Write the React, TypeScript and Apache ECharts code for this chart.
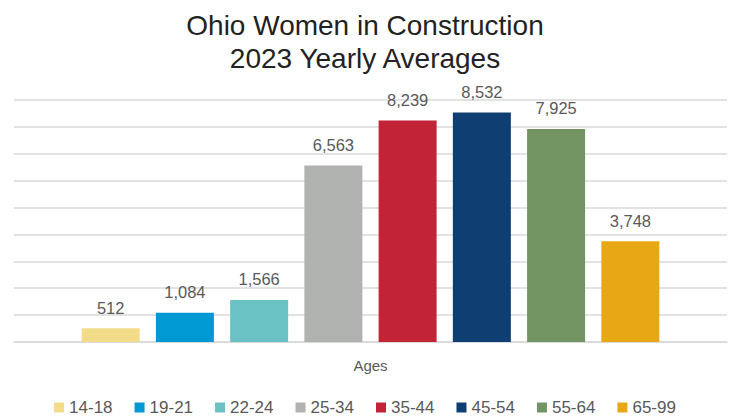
import React, { useEffect, useRef } from "react";
import * as echarts from "echarts";

const categories = ["Ages"];
const seriesNames = ["14-18", "19-21", "22-24", "25-34", "35-44", "45-54", "55-64", "65-99"];
const seriesValues = [512, 1084, 1566, 6563, 8239, 8532, 7925, 3748];
const colors = ["#F2DC8A", "#0099D3", "#6AC2C5", "#B0B2AF", "#C22336", "#0F3E72", "#719462", "#E8A714"];

export default function App() {
  const ref = useRef<HTMLDivElement>(null);
  useEffect(() => {
    if (!ref.current) return;
    const chart = echarts.init(ref.current, undefined, { renderer: "svg" });
    chart.setOption({
      animation: false,
      title: {
        text: "Ohio Women in Construction\n2023 Yearly Averages",
        left: "center",
        top: 4,
        textStyle: { fontFamily: "Liberation Sans", fontSize: 28, fontWeight: "normal", color: "#222", lineHeight: 33 },
      },
      legend: {
        bottom: 0,
        left: "center",
        padding: [5, 5, 2, 5],
        itemWidth: 10,
        itemHeight: 10,
        itemGap: 22,
        icon: "rect",
        textStyle: { fontFamily: "Liberation Sans", fontSize: 17, color: "#595959" },
        data: seriesNames,
      },
      grid: { left: 14, right: 3, top: 100, bottom: 76, containLabel: false },
      xAxis: {
        type: "category",
        data: categories,
        axisLine: { lineStyle: { color: "#d9d9d9", width: 1.5 } },
        axisTick: { show: false },
        axisLabel: { fontFamily: "Liberation Sans", fontSize: 15, color: "#595959", margin: 16 },
      },
      yAxis: {
        type: "value",
        min: 0,
        max: 9000,
        interval: 1000,
        axisLabel: { show: false },
        axisLine: { show: false },
        axisTick: { show: false },
        splitLine: { lineStyle: { color: "#d9d9d9", width: 1.5 } },
      },
      series: seriesNames.map((name, i) => ({
        name,
        type: "bar",
        data: [seriesValues[i]],
        barWidth: 58,
        barGap: "28%",
        itemStyle: { color: colors[i] },
        label: {
          show: true,
          position: "top",
          distance: 12,
          formatter: (p: any) => Number(p.value).toLocaleString("en-US"),
          fontFamily: "Liberation Sans",
          fontSize: 16.5,
          color: "#595959",
        },
      })),
    });
    return () => chart.dispose();
  }, []);
  return <div ref={ref} style={{ width: 730, height: 418, position: "absolute", left: 0, top: 0 }} />;
}
